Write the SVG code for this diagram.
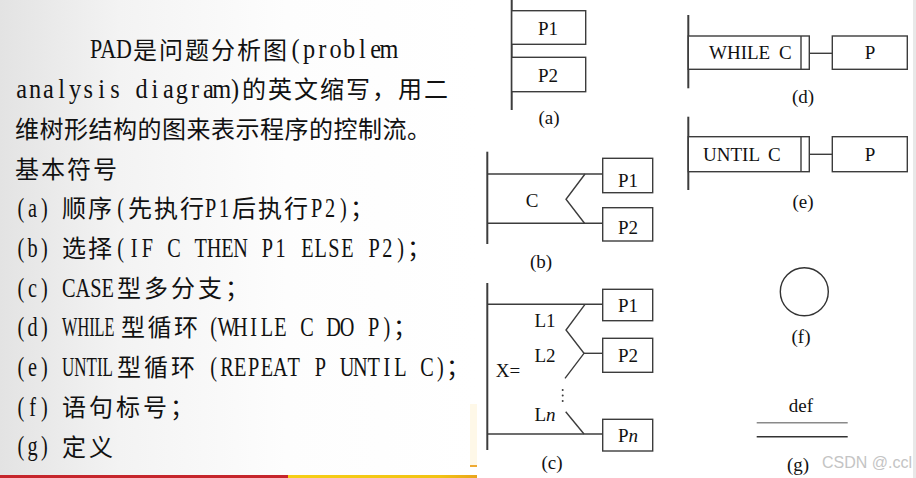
<svg xmlns="http://www.w3.org/2000/svg" width="916" height="478" viewBox="0 0 916 478">
<defs>
<linearGradient id="bg" x1="0" y1="0" x2="477" y2="0" gradientUnits="userSpaceOnUse">
<stop offset="0" stop-color="#e3e3e3"/>
<stop offset="0.25" stop-color="#f3f3f3"/>
<stop offset="0.6" stop-color="#fdfdfd"/>
<stop offset="1" stop-color="#ffffff"/>
</linearGradient>
<linearGradient id="yb" x1="288" y1="0" x2="477" y2="0" gradientUnits="userSpaceOnUse">
<stop offset="0" stop-color="#f6cf16"/>
<stop offset="0.8" stop-color="#f2c313"/>
<stop offset="1" stop-color="#e9a51c"/>
</linearGradient>
<style>
.cj{font-family:"Noto Sans CJK SC","Noto Sans CJK TC",sans-serif;font-size:24px;letter-spacing:2px;fill:#111;}
.lt{font-family:"Liberation Serif",serif;font-size:27px;fill:#111;text-anchor:middle;}
.lp{font-family:"Liberation Serif",serif;font-size:27px;fill:#111;}
.lb{font-family:"Liberation Serif",serif;font-size:19px;fill:#111;text-anchor:middle;}
.ls{font-family:"Liberation Serif",serif;font-size:19px;fill:#111;}
.box{fill:#fff;stroke:#3c3c3c;stroke-width:1.4;}
.ln{stroke:#3c3c3c;stroke-width:1.4;fill:none;}
.sp{stroke:#3c3c3c;stroke-width:2;fill:none;}
</style>
</defs>
<rect x="0" y="0" width="477" height="478" fill="url(#bg)"/>
<rect x="477" y="0" width="436" height="478" fill="#ffffff"/>
<rect x="913" y="0" width="3" height="478" fill="#e8e8e8"/>
<rect x="0" y="475" width="288" height="3" fill="#c6262c"/>
<rect x="288" y="475" width="189" height="3" fill="url(#yb)"/>
<rect x="470" y="404" width="7" height="62" fill="#fef8e8"/>
<line x1="470" y1="466" x2="477" y2="466" stroke="#eeaa33" stroke-width="2"/>

<g id="text-panel">
<text class="lp" transform="scale(0.75,1)" x="120" y="58.5" textLength="56" lengthAdjust="spacingAndGlyphs">PAD</text>
<text class="cj" x="133" y="58.5">是问题分析图</text>
<text class="lt" transform="scale(0.9,1)" x="328.5 343.3 358.1 373.0 387.8 402.6 417.4 432.2" y="58.5">(problem</text>

<text class="lt" transform="scale(0.9,1)" x="24.1 38.9 53.7 68.5 83.3 98.1 112.9 127.8 142.6 157.4 172.2 187.0 201.9 216.7 231.5 246.3 261.1" y="98.2">analysis diagram)</text>
<text class="cj" x="242" y="98.2">的英文缩写，用二</text>

<text class="cj" x="15" y="137.9" style="letter-spacing:0.5px">维树形结构的图来表示程序的控制流。</text>

<text class="cj" x="15" y="177.6">基本符号</text>

<text class="lt" transform="scale(0.75,1)" x="27.9 43.5 59.2" y="217.3">(a)</text>
<text class="cj" x="62" y="217.3">顺序</text>
<text class="lt" transform="scale(0.75,1)" x="160.9" y="217.3">(</text>
<text class="cj" x="128" y="217.3">先执行</text>
<text class="lt" transform="scale(0.75,1)" x="280.9 298.7" y="217.3">P1</text>
<text class="cj" x="232" y="217.3">后执行</text>
<text class="lt" transform="scale(0.75,1)" x="422.2 440 457.8" y="217.3">P2)</text>
<text class="cj" x="350" y="217.3">；</text>

<text class="lt" transform="scale(0.75,1)" x="27.9 43.5 59.2" y="257">(b)</text>
<text class="cj" x="62" y="257">选择</text>
<text class="lt" transform="scale(0.75,1)" x="160.9 178.7 196.4 214.2 232.0 249.8 267.6 285.3 303.1 320.9 338.7 356.4 374.2 392.0 409.8 427.6 445.3 463.1 480.9 498.7 516.4 534.2" y="257">(IF C THEN P1 ELSE P2)</text>
<text class="cj" x="407" y="257">；</text>

<text class="lt" transform="scale(0.75,1)" x="27.9 43.5 59.2" y="296.7">(c)</text>
<text class="lp" transform="scale(0.75,1)" x="82.67" y="296.7" textLength="69.3" lengthAdjust="spacingAndGlyphs">CASE</text>
<text class="cj" x="117" y="296.7" style="letter-spacing:3px">型多分支；</text>

<text class="lt" transform="scale(0.75,1)" x="27.9 43.5 59.2" y="336.4">(d)</text>
<text class="lp" transform="scale(0.75,1)" x="82.67" y="336.4" textLength="70" lengthAdjust="spacingAndGlyphs">WHILE</text>
<text class="cj" x="121" y="336.4" style="letter-spacing:2.5px">型循环</text>
<text class="lt" transform="scale(0.75,1)" x="284.9 302.7 320.4 338.2 356.0 373.8 391.6 409.3 427.1 444.9 462.7 480.4 498.2 516.0" y="336.4">(WHILE C DO P)</text>
<text class="cj" x="393" y="336.4">；</text>

<text class="lt" transform="scale(0.75,1)" x="27.9 43.5 59.2" y="376.1">(e)</text>
<text class="lp" transform="scale(0.75,1)" x="82.67" y="376.1" textLength="68" lengthAdjust="spacingAndGlyphs">UNTIL</text>
<text class="cj" x="117" y="376.1" style="letter-spacing:3px">型循环</text>
<text class="lt" transform="scale(0.75,1)" x="284.9 302.7 320.4 338.2 356.0 373.8 391.6 409.3 427.1 444.9 462.7 480.4 498.2 516.0 533.8 551.6 569.3 587.1" y="376.1">(REPEAT P UNTIL C)</text>
<text class="cj" x="446" y="376.1">；</text>

<text class="lt" transform="scale(0.75,1)" x="27.9 43.5 59.2" y="415.8">(f)</text>
<text class="cj" x="62" y="415.8" style="letter-spacing:3px">语句标号；</text>

<text class="lt" transform="scale(0.75,1)" x="27.9 43.5 59.2" y="455.5">(g)</text>
<text class="cj" x="62" y="455.5" style="letter-spacing:3px">定义</text>
</g>

<g id="connectors">
<line class="sp" x1="511.7" y1="0" x2="511.7" y2="110"/>
<line class="sp" x1="487.3" y1="151.7" x2="487.3" y2="244"/>
<line class="ln" x1="487.3" y1="174" x2="602.7" y2="174"/>
<line class="ln" x1="487.3" y1="223.3" x2="602.7" y2="223.3"/>
<polyline class="ln" points="585,174 566,199.3 584.5,223.3"/>
<line class="sp" x1="487.3" y1="283" x2="487.3" y2="450"/>
<line class="ln" x1="487.3" y1="304.3" x2="602.7" y2="304.3"/>
<line class="ln" x1="487.3" y1="434" x2="602.7" y2="434"/>
<polyline class="ln" points="585,304.3 566,330 584,353.3 565,378.3"/>
<line class="ln" x1="584" y1="353.3" x2="602.7" y2="353.3"/>
<line class="ln" x1="565.7" y1="411.7" x2="584" y2="434"/>
<circle cx="562.7" cy="390" r="1" fill="#3c3c3c"/>
<circle cx="562.7" cy="395.5" r="1" fill="#3c3c3c"/>
<circle cx="562.7" cy="401" r="1" fill="#3c3c3c"/>
<line class="sp" x1="688.3" y1="15" x2="688.3" y2="88.3"/>
<line class="ln" x1="809.3" y1="53.3" x2="832.3" y2="53.3"/>
<line class="sp" x1="688.3" y1="116.7" x2="688.3" y2="190"/>
<line class="ln" x1="809.3" y1="154.3" x2="832.3" y2="154.3"/>
<line x1="756.7" y1="422.7" x2="847.7" y2="422.7" stroke="#8a8a8a" stroke-width="1.6"/>
<line x1="756.7" y1="436.7" x2="847.7" y2="436.7" stroke="#333" stroke-width="1.6"/>
</g>

<g id="a-P1"><rect class="box" x="511.7" y="10.7" width="74" height="33.6"/><text class="lb" x="548" y="35">P1</text></g>
<g id="a-P2"><rect class="box" x="511.7" y="57.3" width="74" height="34.4"/><text class="lb" x="548" y="82">P2</text></g>
<g id="a-label"><text class="lb" x="549" y="124">(a)</text></g>

<g id="b-C"><text class="lb" x="532" y="206.5">C</text></g>
<g id="b-P1"><rect class="box" x="602.7" y="158.3" width="50" height="34.4"/><text class="lb" x="628" y="186.5">P1</text></g>
<g id="b-P2"><rect class="box" x="602.7" y="207.7" width="50" height="33.3"/><text class="lb" x="628" y="234">P2</text></g>
<g id="b-label"><text class="lb" x="541" y="268">(b)</text></g>

<g id="c-X"><text class="lb" x="508" y="376.5">X=</text></g>
<g id="c-L1"><text class="lb" x="545" y="327">L1</text></g>
<g id="c-L2"><text class="lb" x="545" y="362">L2</text></g>
<g id="c-Ln"><text class="lb" x="545" y="421">L<tspan font-style="italic">n</tspan></text></g>
<g id="c-P1"><rect class="box" x="602.7" y="289.3" width="50" height="31.4"/><text class="lb" x="628" y="311.5">P1</text></g>
<g id="c-P2"><rect class="box" x="602.7" y="338.3" width="50" height="34"/><text class="lb" x="628" y="362">P2</text></g>
<g id="c-Pn"><rect class="box" x="602.7" y="419.3" width="50" height="31.7"/><text class="lb" x="628" y="441.5">P<tspan font-style="italic">n</tspan></text></g>
<g id="c-label"><text class="lb" x="552" y="469">(c)</text></g>

<g id="d-while"><rect class="box" x="688.3" y="36" width="121" height="33.3"/><line class="ln" x1="801" y1="36" x2="801" y2="69.3"/><text class="ls" x="709" y="59.3" style="word-spacing:4px">WHILE C</text></g>
<g id="d-P"><rect class="box" x="832.3" y="36" width="75" height="33.3"/><text class="lb" x="870" y="59.3">P</text></g>
<g id="d-label"><text class="lb" x="803" y="103">(d)</text></g>

<g id="e-until"><rect class="box" x="688.3" y="136.7" width="121" height="35"/><line class="ln" x1="801" y1="136.7" x2="801" y2="171.7"/><text class="ls" x="703" y="161" style="word-spacing:4px">UNTIL C</text></g>
<g id="e-P"><rect class="box" x="832.3" y="136.7" width="75" height="35"/><text class="lb" x="870" y="161">P</text></g>
<g id="e-label"><text class="lb" x="803" y="208">(e)</text></g>

<g id="f-circle"><circle cx="804.3" cy="291.7" r="24" fill="none" stroke="#333" stroke-width="1.4"/></g>
<g id="f-label"><text class="lb" x="801" y="343">(f)</text></g>

<g id="g-def"><text class="lb" x="801" y="412">def</text></g>
<g id="g-label"><text class="lb" x="798" y="471">(g)</text></g>

<text x="822" y="468" font-family="Liberation Sans, Arial, sans-serif" font-size="16" fill="#c4c4c4">CSDN @.ccl</text>
</svg>
